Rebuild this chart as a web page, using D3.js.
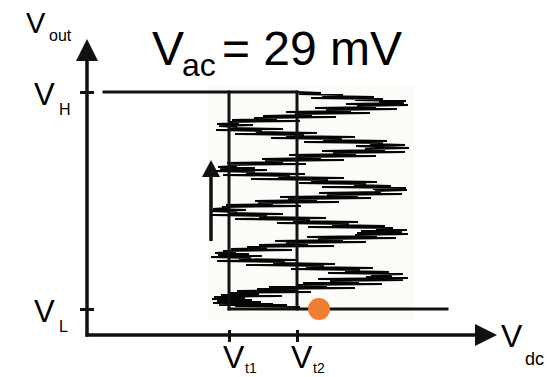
<!DOCTYPE html>
<html>
<head>
<meta charset="utf-8">
<script src="https://cdn.jsdelivr.net/npm/d3@7/dist/d3.min.js"></script>
<style>
  html, body { margin: 0; padding: 0; background: #fff; }
  svg { display: block; }
  text { font-family: "Liberation Sans", Arial, Helvetica, sans-serif; fill: #000; }
</style>
</head>
<body>
<div id="chart"></div>
<script>
// ---- data (arbitrary units: Vdc horizontal, Vout vertical) ----
const vdcExtent = [0, 41];
const voutExtent = [0, 29.6];

const vdcTickValues = [14.2, 21.0];
const vdcTickSubs = ["t1", "t2"];
const voutTickValues = [2.6, 24.3];
const voutTickSubs = ["L", "H"];

// hysteresis loop segments: [vdcStart, voutStart, vdcEnd, voutEnd]
const loopSegments = [
  [1.7, 24.3, 21.0, 24.3],
  [14.2, 24.3, 14.2, 2.6],
  [21.0, 24.3, 21.0, 2.6],
  [14.2, 2.6, 36.0, 2.6]
];

const dotPoint = [23.2, 2.6];
const sweepArrow = [12.4, 9.4, 17.5]; // vdc, vout from, vout tip
const title = { main: "V", sub: "ac", rest: "= 29 mV" };

// noisy trace
const traceVdc = [
  21.3,14.8,20.0,13.2,18.6,12.6,17.4,13.0,16.5,12.5,
  15.8,12.7,19.5,13.4,17.2,14.1,22.4,15.0,21.1,17.0,26.8,18.2,24.0,20.9,29.5,21.6,27.2,24.3,31.6,23.1,32.1,27.9,30.5,
  28.4,31.6,24.1,30.2,25.8,27.3,20.4,28.6,21.9,23.7,15.9,24.8,18.6,19.8,13.0,21.0,15.2,16.4,12.4,17.5,13.1,
  16.2,12.8,14.9,13.6,20.5,14.4,18.0,16.0,24.7,17.2,22.1,19.9,27.9,18.8,25.6,23.1,30.9,22.0,29.0,26.8,32.1,27.0,31.5,
  27.4,32.0,28.9,30.6,22.1,29.8,24.5,26.2,19.0,27.1,20.6,22.3,14.8,23.9,17.2,18.0,12.5,19.6,14.1,15.0,12.4,
  15.9,12.6,14.2,13.5,21.4,13.9,18.6,17.1,25.2,16.8,23.0,20.1,28.4,19.3,27.1,24.0,31.5,23.2,29.4,28.8,32.0,
  28.6,31.9,23.5,30.4,26.7,27.9,21.2,29.0,22.4,24.1,16.4,25.7,19.1,20.3,13.6,21.8,15.9,16.8,12.7,18.0,13.3,
  16.8,13.1,15.0,14.2,21.9,14.0,19.6,17.8,25.7,17.5,23.4,21.0,28.9,20.2,26.9,24.6,31.8,23.5,29.8,27.8,32.2,29.0,
  26.9,31.8,28.3,29.6,21.7,30.0,23.6,25.5,18.4,26.8,19.9,21.7,14.8,23.0,16.9,17.5,12.9,19.6,14.2,15.0,13.2,
  16.6,13.0,15.2,14.1,21.3,14.5,19.0,16.7,24.9,17.6,22.5,20.8,28.3,19.9,26.4,23.9,31.0,22.8,28.9,27.0,32.1,25.9,31.7,29.2,
  31.9,26.8,29.6,22.4,28.7,23.5,25.6,21.2,23.4,21.0
];
const traceVout = [
  2.8,2.9,3.0,3.0,3.1,3.2,3.3,3.4,3.5,3.6,
  3.7,3.8,3.9,4.0,4.1,4.2,4.3,4.4,4.5,4.6,4.7,4.8,4.9,5.0,5.1,5.2,5.3,5.4,5.5,5.6,5.7,5.8,5.9,
  6.0,6.1,6.2,6.3,6.4,6.5,6.6,6.7,6.8,6.9,7.0,7.1,7.2,7.3,7.4,7.5,7.6,7.7,7.8,7.9,8.0,
  8.1,8.2,8.3,8.4,8.5,8.6,8.7,8.8,8.9,9.0,9.1,9.2,9.3,9.4,9.5,9.6,9.7,9.8,9.9,10.0,10.1,10.2,10.3,
  10.4,10.5,10.6,10.7,10.8,10.9,11.0,11.1,11.2,11.3,11.4,11.5,11.6,11.7,11.8,11.9,12.0,12.1,12.2,12.3,12.4,
  12.5,12.6,12.7,12.8,12.9,13.0,13.1,13.2,13.3,13.4,13.5,13.6,13.7,13.8,13.9,14.0,14.1,14.2,14.3,14.4,14.5,
  14.6,14.7,14.8,14.9,15.0,15.1,15.2,15.3,15.4,15.5,15.6,15.7,15.8,15.9,16.0,16.1,16.2,16.3,16.4,16.5,16.6,
  16.7,16.8,16.9,17.0,17.1,17.2,17.3,17.4,17.5,17.6,17.7,17.8,17.9,18.0,18.1,18.2,18.3,18.4,18.5,18.6,18.7,18.8,
  18.9,19.0,19.1,19.2,19.3,19.4,19.5,19.6,19.7,19.8,19.9,20.0,20.1,20.2,20.3,20.4,20.5,20.6,20.7,20.8,20.9,
  21.0,21.1,21.2,21.3,21.4,21.5,21.6,21.7,21.8,21.9,22.0,22.1,22.2,22.3,22.4,22.5,22.6,22.7,22.8,22.9,23.0,23.1,23.2,23.3,
  23.4,23.5,23.6,23.7,23.8,23.9,24.0,24.1,24.2,24.3
];

// ---- drawing ----
const W = 547, H = 377;
const svg = d3.select("#chart").append("svg").attr("width", W).attr("height", H);
svg.append("rect").attr("width", W).attr("height", H).attr("fill", "#fff");

const x = d3.scaleLinear().domain(vdcExtent).range([87, 497]);
const y = d3.scaleLinear().domain(voutExtent).range([335, 39]);

// faint background behind trace region
svg.append("rect")
  .attr("x", x(12.0)).attr("y", y(25.0))
  .attr("width", x(32.7) - x(12.0)).attr("height", y(1.5) - y(25.0))
  .attr("fill", "#fcfbf7");

// noisy trace
const traceData = traceVdc.map((v, i) => [v, traceVout[i]]);
svg.append("path")
  .datum(traceData)
  .attr("d", d3.line().x(d => x(d[0])).y(d => y(d[1])))
  .attr("fill", "none").attr("stroke", "#050505")
  .attr("stroke-width", 1.8).attr("stroke-linejoin", "miter").attr("stroke-miterlimit", 3);

// hysteresis loop
svg.selectAll("line.loop").data(loopSegments).enter().append("line")
  .attr("class", "loop")
  .attr("x1", d => x(d[0])).attr("y1", d => y(d[1]))
  .attr("x2", d => x(d[2])).attr("y2", d => y(d[3]))
  .attr("stroke", "#111").attr("stroke-width", 3).attr("stroke-linecap", "square");

// axes lines with arrows
const axisW = 3.5;
svg.append("line").attr("x1", x(0)).attr("x2", x(0))
  .attr("y1", y(0) + 1.5).attr("y2", y(voutExtent[1]) + 20)
  .attr("stroke", "#111").attr("stroke-width", axisW);
svg.append("path")
  .attr("d", `M${x(0)},${y(voutExtent[1])} L${x(0) - 11},${y(voutExtent[1]) + 22} L${x(0) + 11},${y(voutExtent[1]) + 22} Z`)
  .attr("fill", "#111");
svg.append("line").attr("x1", x(0) - 1.5).attr("x2", x(vdcExtent[1]) - 20)
  .attr("y1", y(0)).attr("y2", y(0))
  .attr("stroke", "#111").attr("stroke-width", axisW);
svg.append("path")
  .attr("d", `M${x(vdcExtent[1])},${y(0)} L${x(vdcExtent[1]) - 22},${y(0) - 11} L${x(vdcExtent[1]) - 22},${y(0) + 11} Z`)
  .attr("fill", "#111");

// ticks via d3 axes
const xAxisG = svg.append("g").attr("transform", `translate(0,${y(0)})`)
  .call(d3.axisBottom(x).tickValues(vdcTickValues).tickSizeOuter(0).tickFormat(""));
xAxisG.select(".domain").remove();
xAxisG.selectAll(".tick line").attr("y1", -5).attr("y2", 7).attr("stroke", "#111").attr("stroke-width", 3);

const yAxisG = svg.append("g").attr("transform", `translate(${x(0)},0)`)
  .call(d3.axisLeft(y).tickValues(voutTickValues).tickSizeOuter(0).tickFormat(""));
yAxisG.select(".domain").remove();
yAxisG.selectAll(".tick line").attr("x1", -7).attr("x2", 7).attr("stroke", "#111").attr("stroke-width", 3);

// tick labels
vdcTickValues.forEach((v, i) => {
  svg.append("text").attr("x", x(v) - 6).attr("y", 368).attr("font-size", 32).text("V");
  svg.append("text").attr("x", x(v) + 16).attr("y", 373).attr("font-size", 14).text(vdcTickSubs[i]);
});
voutTickValues.forEach((v, i) => {
  svg.append("text").attr("x", 34).attr("y", y(v) + 13).attr("font-size", 31).text("V");
  svg.append("text").attr("x", 59).attr("y", y(v) + 23).attr("font-size", 16).text(voutTickSubs[i]);
});

// axis titles
svg.append("text").attr("x", 26).attr("y", 33).attr("font-size", 29).text("V");
svg.append("text").attr("x", 49).attr("y", 41).attr("font-size", 16).text("out");
svg.append("text").attr("x", 501).attr("y", 347).attr("font-size", 32).text("V");
svg.append("text").attr("x", 525).attr("y", 365).attr("font-size", 18).text("dc");

// sweep arrow
const [ax, ay0, ay1] = sweepArrow;
svg.append("line").attr("x1", x(ax)).attr("x2", x(ax))
  .attr("y1", y(ay0)).attr("y2", y(ay1) + 14)
  .attr("stroke", "#111").attr("stroke-width", 3.5);
svg.append("path")
  .attr("d", `M${x(ax)},${y(ay1)} L${x(ax) - 9},${y(ay1) + 17} L${x(ax) + 9},${y(ay1) + 17} Z`)
  .attr("fill", "#111");

// orange dot
svg.append("circle").attr("cx", x(dotPoint[0])).attr("cy", y(dotPoint[1])).attr("r", 11)
  .attr("fill", "#EE7E31");

// title
svg.append("text").attr("x", 152).attr("y", 65).attr("font-size", 48).text(title.main);
svg.append("text").attr("x", 182).attr("y", 76).attr("font-size", 32).text(title.sub);
svg.append("text").attr("x", 222).attr("y", 65).attr("font-size", 48).text(title.rest);
</script>
</body>
</html>
